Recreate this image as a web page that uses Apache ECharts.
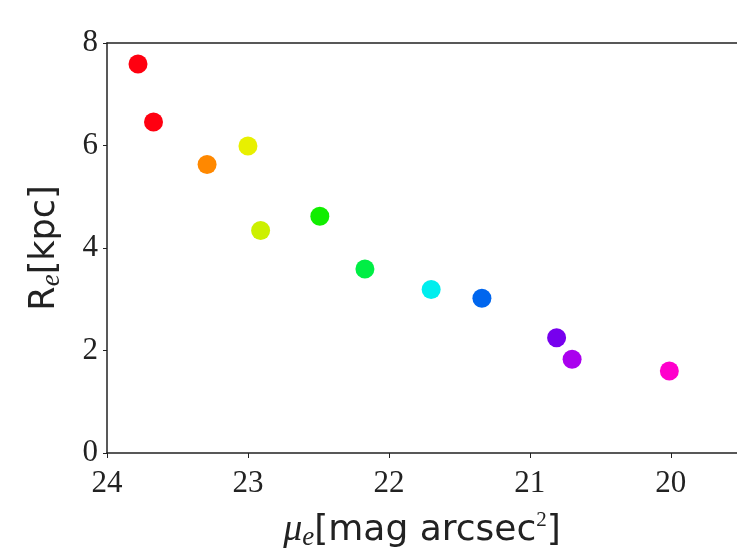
<!DOCTYPE html>
<html>
<head>
<meta charset="utf-8">
<script src="https://cdn.jsdelivr.net/npm/echarts@6/dist/echarts.min.js"></script>
<style>html,body{margin:0;padding:0;background:#fff}#c{width:737px;height:560px}</style>
</head>
<body>
<div id="c"></div>
<script>
// Effective surface brightness (mag arcsec^2) and effective radius (kpc)
var muE = [23.78, 23.67, 23.29, 23.00, 22.91, 22.49, 22.17, 21.70, 21.34, 20.81, 20.70, 20.01];
var rE  = [7.59, 6.46, 5.63, 5.99, 4.34, 4.62, 3.59, 3.19, 3.02, 2.25, 1.83, 1.60];
var colors = ['#ff0010', '#ff0010', '#ff8800', '#e8f000', '#ccf000', '#11ee00', '#00ee44', '#00eeee', '#0066ee', '#7700ee', '#aa00ee', '#ff00cc'];
var xRange = [19.53, 24];
var xTicks = [20, 21, 22, 23, 24];
var yTicks = [0, 2, 4, 6, 8];

var pts = muE.map(function (m, i) {
  return { value: [m, rE[i]], itemStyle: { color: colors[i], opacity: 1 } };
});

var chart = echarts.init(document.getElementById('c'));
var serif = '"Liberation Serif", "DejaVu Serif", serif';
var sans = '"DejaVu Sans", "Liberation Sans", sans-serif';
chart.setOption({
  backgroundColor: '#ffffff',
  animation: false,
  grid: { left: 107, top: 43, bottom: 107, right: 0 },
  xAxis: [{
    type: 'value', min: xRange[0], max: xRange[1], inverse: true,
    axisLine: { lineStyle: { color: '#222', width: 1.5 } },
    axisTick: { show: true, length: 5, customValues: xTicks, lineStyle: { color: '#222' } },
    splitLine: { show: false },
    axisLabel: { color: '#222', fontFamily: serif, fontSize: 31, margin: 15, customValues: xTicks },
    name: '{mu|μ}{sub|e}{t|[mag arcsec}{sup|2}{t|]}',
    nameLocation: 'middle', nameGap: 57,
    nameTextStyle: {
      rich: {
        mu: { fontFamily: serif, fontStyle: 'italic', fontSize: 38, color: '#222' },
        sub: { fontFamily: serif, fontStyle: 'italic', fontSize: 27, color: '#222', verticalAlign: 'bottom', padding: [14, 0, 0, 0] },
        t: { fontFamily: sans, fontSize: 36, color: '#222' },
        sup: { fontFamily: serif, fontSize: 21, color: '#222', verticalAlign: 'top', padding: [0, 0, 14, 0] }
      }
    }
  }, {
    type: 'value', position: 'top', min: xRange[0], max: xRange[1], inverse: true,
    axisLine: { show: true, lineStyle: { color: '#222', width: 1.5 } },
    axisTick: { show: false }, axisLabel: { show: false }, splitLine: { show: false }
  }],
  yAxis: {
    type: 'value', min: yTicks[0], max: yTicks[yTicks.length - 1], interval: 2,
    axisLine: { lineStyle: { color: '#222', width: 1.5 } },
    axisTick: { show: true, length: 4, lineStyle: { color: '#222' } },
    splitLine: { show: false },
    axisLabel: { color: '#222', fontFamily: serif, fontSize: 31, margin: 9 },
    name: '{t|R}{sub|e}{t|[kpc]}',
    nameLocation: 'middle', nameGap: 42, nameRotate: 90,
    nameTextStyle: {
      rich: {
        t: { fontFamily: sans, fontSize: 35, color: '#222' },
        sub: { fontFamily: serif, fontStyle: 'italic', fontSize: 27, color: '#222', verticalAlign: 'bottom', padding: [14, 0, 0, 0] }
      }
    }
  },
  series: [{
    type: 'scatter', symbolSize: 19, data: pts
  }]
});
</script>
</body>
</html>
